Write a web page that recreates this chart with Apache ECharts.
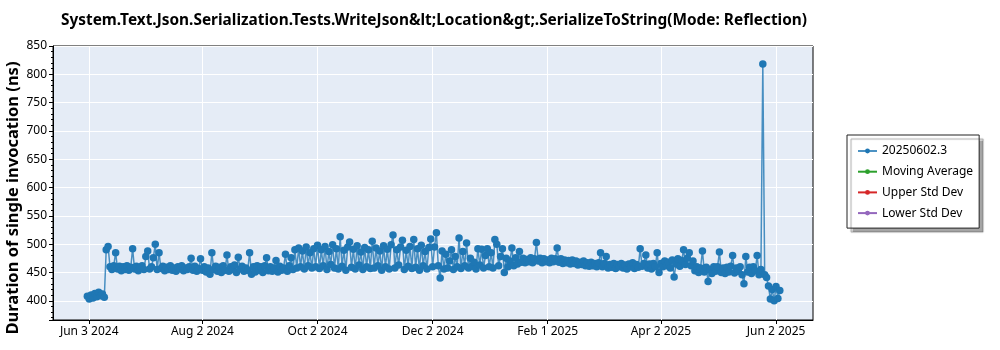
<!DOCTYPE html>
<html>
<head>
<meta charset="utf-8">
<script src="https://cdn.jsdelivr.net/npm/echarts@6/dist/echarts.min.js"></script>
<style>
html,body{margin:0;padding:0;background:#fff;}
#chart{width:1000px;height:350px;}
</style>
</head>
<body>
<div id="chart"></div>
<script>
// ---- Data ----
const chartTitle = 'System.Text.Json.Serialization.Tests.WriteJson&lt;Location&gt;.SerializeToString(Mode: Reflection)';
const yAxisTitle = 'Duration of single invocation (ns)';
const seriesNames = ['20250602.3', 'Moving Average', 'Upper Std Dev', 'Lower Std Dev'];

const xTickDates = ['2024-06-03', '2024-08-02', '2024-10-02', '2024-12-02', '2025-02-01', '2025-04-02', '2025-06-02'];
const xTickLabels = ['Jun 3 2024', 'Aug 2 2024', 'Oct 2 2024', 'Dec 2 2024', 'Feb 1 2025', 'Apr 2 2025', 'Jun 2 2025'];

// daily values, each month array starts at the date in monthStarts
const monthStarts = ['2024-06-02', '2024-07-01', '2024-08-01', '2024-09-01', '2024-10-01', '2024-11-01',
  '2024-12-01', '2025-01-01', '2025-02-01', '2025-03-01', '2025-04-01', '2025-05-01', '2025-06-01'];
const jun2024 = [408, 403, 410, 405, 413, 407, 415, 409, 412, 406, 490, 496, 460, 455, 462, 485, 456, 461, 453, 460, 455, 462, 454, 459, 492, 456, 461, 453, 458];
const jul2024 = [462, 455, 478, 488, 456, 460, 476, 500, 455, 485, 457, 461, 453, 459, 455, 462, 454, 458, 452, 460, 456, 462, 453, 458, 455, 460, 475, 454, 461, 452, 457];
const aug2024 = [474, 454, 460, 451, 458, 447, 485, 455, 461, 452, 459, 450, 462, 454, 481, 452, 460, 455, 463, 450, 477, 456, 461, 452, 458, 454, 485, 447, 460, 451, 462];
const sep2024 = [454, 460, 450, 462, 476, 453, 460, 452, 458, 471, 451, 461, 454, 458, 482, 452, 462, 476, 455, 490, 458, 493, 460, 488, 456, 495, 462, 485, 458, 492];
const oct2024 = [460, 498, 457, 490, 462, 496, 455, 487, 464, 499, 458, 492, 456, 513, 461, 489, 454, 495, 504, 459, 491, 456, 497, 463, 486, 455, 494, 460, 490, 457, 505];
const nov2024 = [458, 493, 462, 488, 454, 497, 460, 491, 456, 499, 516, 458, 490, 463, 495, 507, 455, 489, 461, 496, 457, 508, 459, 492, 454, 498, 462, 487, 456, 494];
const dec2024 = [509, 460, 495, 520, 462, 440, 488, 456, 482, 458, 470, 490, 455, 478, 460, 511, 457, 487, 462, 502, 458, 475, 461, 468, 456, 492, 463, 491, 458, 480, 492];
const jan2025 = [460, 485, 458, 508, 500, 462, 478, 492, 450, 475, 460, 470, 493, 462, 476, 465, 487, 468, 475, 467, 473, 469, 476, 467, 474, 503, 470, 475, 467, 474, 469];
const feb2025 = [472, 467, 475, 469, 474, 493, 468, 474, 466, 472, 467, 471, 465, 472, 466, 470, 463, 468, 464, 470, 462, 467, 461, 468, 462, 466, 460, 467];
const mar2025 = [485, 460, 466, 478, 458, 464, 459, 466, 457, 464, 460, 466, 458, 463, 456, 465, 460, 467, 457, 464, 459, 492, 461, 466, 481, 458, 465, 456, 466, 460, 485];
const apr2025 = [450, 466, 460, 470, 462, 468, 458, 472, 442, 465, 474, 461, 471, 490, 464, 475, 485, 462, 470, 453, 460, 450, 458, 488, 451, 459, 434, 455, 448, 460];
const may2025 = [452, 460, 486, 450, 458, 448, 459, 451, 461, 480, 449, 458, 452, 460, 446, 430, 478, 451, 459, 448, 460, 453, 480, 446, 455, 818, 446, 441, 426, 403, 420];
const jun2025 = [400, 425, 404, 418];
const monthValues = [jun2024, jul2024, aug2024, sep2024, oct2024, nov2024, dec2024, jan2025, feb2025, mar2025, apr2025, may2025, jun2025];

// ---- Build series data ----
const DAY = 86400000;
function ts(s) { const p = s.split('-').map(Number); return Date.UTC(p[0], p[1] - 1, p[2]); }
const mainData = [];
monthValues.forEach(function (arr, m) {
  const t0 = ts(monthStarts[m]);
  arr.forEach(function (v, i) { mainData.push([t0 + i * DAY, v]); });
});
const xTickValues = xTickDates.map(ts);
const xMin = ts('2024-06-03') - 19.2 * DAY;
const xMax = ts('2024-06-03') + 383.6 * DAY;

const FONT = 'Noto Sans';
const chart = echarts.init(document.getElementById('chart'), null, { renderer: 'canvas' });
chart.setOption({
  animation: false,
  backgroundColor: '#ffffff',
  textStyle: { fontFamily: FONT },
  title: {
    text: chartTitle,
    left: 429,
    textAlign: 'center',
    top: 8,
    textStyle: { fontFamily: FONT, fontSize: 15.4, fontWeight: 'bold', color: '#000' }
  },
  grid: {
    left: 53, right: 187, top: 46, bottom: 30,
    show: true, backgroundColor: '#E5ECF6', borderColor: '#000', borderWidth: 1,
    containLabel: false, outerBoundsMode: 'none'
  },
  legend: {
    orient: 'vertical',
    left: 847, top: 135,
    data: seriesNames,
    backgroundColor: '#fff',
    borderColor: '#222', borderWidth: 1,
    shadowColor: 'rgba(0,0,0,0.35)', shadowBlur: 1, shadowOffsetX: 4, shadowOffsetY: 4,
    padding: [9, 6, 8, 10],
    itemWidth: 19, itemHeight: 6, itemGap: 6.7,
    textStyle: { fontFamily: FONT, fontSize: 12, lineHeight: 14, color: '#000' }
  },
  xAxis: {
    type: 'value',
    min: xMin, max: xMax,
    axisLine: { show: true, lineStyle: { color: '#000', width: 1 } },
    axisTick: { show: true, customValues: xTickValues, length: 4, lineStyle: { color: '#000' } },
    axisLabel: {
      customValues: xTickValues,
      margin: 6,
      color: '#000', fontSize: 12, fontFamily: FONT,
      formatter: function (v) {
        const i = xTickValues.indexOf(v);
        return i >= 0 ? xTickLabels[i] : '';
      }
    },
    splitLine: { show: true, lineStyle: { color: '#fff', width: 1 } }
  },
  yAxis: {
    type: 'value',
    min: 366, max: 850, splitNumber: 10,
    name: yAxisTitle,
    nameLocation: 'middle',
    nameGap: 31,
    nameMoveOverlap: false,
    nameTextStyle: { fontFamily: FONT, fontSize: 16.5, fontWeight: 'bold', color: '#000', padding: [0, 30, 0, 0] },
    axisLine: { show: true, lineStyle: { color: '#000', width: 1 } },
    axisTick: { show: true, length: 4, lineStyle: { color: '#000' } },
    minorTick: { show: true, splitNumber: 5, length: 2, lineStyle: { color: '#000' } },
    axisLabel: { showMinLabel: false, color: '#000', fontSize: 12, fontFamily: FONT, margin: 6 },
    splitLine: { show: true, lineStyle: { color: '#fff', width: 1 } }
  },
  series: [
    {
      name: seriesNames[0], type: 'line', data: mainData,
      color: '#1f77b4',
      symbol: 'circle', symbolSize: 7.5, showSymbol: true,
      lineStyle: { color: '#1f77b4', width: 1.5, opacity: 0.8 },
      itemStyle: { color: '#1f77b4' },
      emphasis: { disabled: true }
    },
    { name: seriesNames[1], type: 'line', data: [], color: '#2ca02c', symbol: 'circle', symbolSize: 6, lineStyle: { width: 1.5 } },
    { name: seriesNames[2], type: 'line', data: [], color: '#d62728', symbol: 'circle', symbolSize: 6, lineStyle: { width: 1.5 } },
    { name: seriesNames[3], type: 'line', data: [], color: '#9467bd', symbol: 'circle', symbolSize: 6, lineStyle: { width: 1.5 } }
  ]
});
</script>
</body>
</html>
